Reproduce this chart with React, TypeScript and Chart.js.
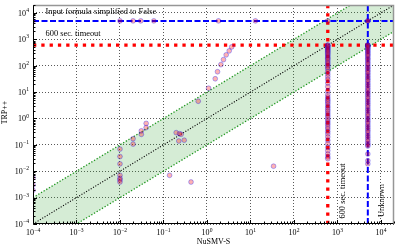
import React, { useEffect, useRef } from 'react';
import { Chart, registerables } from 'chart.js';

Chart.register(...registerables);

// ---- axis ranges & ticks ----
const X_MIN = 1e-4;
const X_MAX = 2e4;
const Y_MIN = 1e-4;
const Y_MAX = 2e4;
const decadeTicks = [1e-4, 1e-3, 1e-2, 1e-1, 1, 10, 100, 1000, 1e4];
const decadeExponents = ['\u22124', '\u22123', '\u22122', '\u22121', '0', '1', '2', '3', '4'];
const minorMultipliers = [2, 3, 4, 5, 6, 7, 8, 9];

// ---- reference lines ----
const TIMEOUT = 600;
const UNKNOWN = 5000;
const diagX = [1e-4, 2e4];
const diagY = [1e-4, 2e4];
const bandUpperY = [1e-3, 2e5];
const bandLowerY = [1e-5, 2e3];

// ---- data ----
// runs where TRP++ reported "simplified to False" (plotted at y = UNKNOWN)
const simplifiedX = [1e-4, 0.01, 0.02, 0.03, 0.06, 1.84, 13, 600, 5000];

// solved by both
const solvedX = [
  1e-4, 1e-4, 1e-4,
  0.01, 0.01, 0.01, 0.01, 0.01, 0.01, 0.01,
  0.02, 0.02, 0.031, 0.031, 0.04, 0.04,
  0.138, 0.43, 0.196, 0.234, 0.255, 0.225, 0.30, 34,
  0.63, 1.09, 1.55, 1.75, 2.09, 2.4, 2.77, 3.25, 3.7,
];
const solvedY = [
  0.0056, 0.003, 0.0019,
  0.069, 0.036, 0.019, 0.007, 0.0054, 0.0047, 0.0039,
  0.17, 0.107, 0.34, 0.25, 0.65, 0.45,
  0.007, 0.0039, 0.29, 0.265, 0.25, 0.14, 0.15, 0.0155,
  4.5, 14, 32, 59, 110, 170, 258, 365, 515,
];

// NuSMV-S timed out (x = TIMEOUT)
const timeoutColumnY = [
  600, 600, 560, 520, 480, 450, 410, 380, 350, 320, 290, 260, 235, 210, 190, 170,
  150, 130, 115, 100, 88, 75, 60, 48, 38, 30, 22, 16, 11, 8, 6.5, 5.5, 4.8, 4.2,
  3.6, 3.0, 2.6, 2.2, 1.9, 1.6, 1.35, 1.15, 0.95, 0.8, 0.68, 0.58, 0.48, 0.4,
  0.32, 0.26, 0.2, 0.15, 0.11, 0.08, 0.06, 0.045, 0.035, 0.03,
];

// NuSMV-S unknown (x = UNKNOWN)
const unknownColumnY = [
  5000, 600, 600, 600, 560, 520, 480, 440, 400, 360, 330, 300, 270, 240, 215, 190,
  170, 150, 130, 115, 100, 88, 78, 68, 60, 52, 45, 39, 34, 30, 26, 22, 19, 16.5,
  14, 12, 10.5, 9, 7.8, 6.8, 5.8, 5, 4.3, 3.7, 3.2, 2.7, 2.3, 2, 1.7, 1.45, 1.25,
  1.05, 0.9, 0.78, 0.67, 0.57, 0.49, 0.42, 0.36, 0.31, 0.26, 0.22, 0.19, 0.16,
  0.135, 0.115, 0.1, 0.09, 0.045, 0.025, 0.019,
];

const FONT = '"Liberation Serif", "Times New Roman", serif';

function drawPower(ctx: CanvasRenderingContext2D, exp: string, x: number, baseY: number, align: 'center' | 'right') {
  ctx.font = `8px ${FONT}`;
  const w1 = ctx.measureText('10').width;
  ctx.font = `5.6px ${FONT}`;
  const w2 = ctx.measureText(exp).width;
  const total = w1 + w2;
  const startX = align === 'center' ? x - total / 2 : x - total;
  ctx.textAlign = 'left';
  ctx.textBaseline = 'alphabetic';
  ctx.font = `8px ${FONT}`;
  ctx.fillText('10', startX, baseY);
  ctx.font = `5.6px ${FONT}`;
  ctx.fillText(exp, startX + w1 + 0.2, baseY - 3.7);
}

const decorPlugin = {
  id: 'decor',
  afterDraw(chart: any) {
    const { ctx, chartArea: a, scales } = chart;
    const xs = scales.x;
    const ys = scales.y;
    const L = Math.round(a.left) + 0.5;
    const R = Math.round(a.right) - 0.5;
    const T = Math.round(a.top) + 0.5;
    const B = Math.round(a.bottom) - 0.5;
    ctx.save();
    ctx.setLineDash([]);
    // top / right frame
    ctx.strokeStyle = 'rgb(150,150,150)';
    ctx.lineWidth = 1.5;
    ctx.beginPath();
    ctx.moveTo(L, T);
    ctx.lineTo(R, T);
    ctx.lineTo(R, B);
    ctx.stroke();
    // left / bottom spines
    ctx.strokeStyle = '#000';
    ctx.lineWidth = 1;
    ctx.beginPath();
    ctx.moveTo(L, T);
    ctx.lineTo(L, B);
    ctx.lineTo(R, B);
    ctx.stroke();

    // ticks (inward)
    ctx.beginPath();
    decadeTicks.forEach((v) => {
      const px = Math.round(xs.getPixelForValue(v)) + 0.5;
      ctx.moveTo(px, B);
      ctx.lineTo(px, B - 3.5);
      const py = Math.round(ys.getPixelForValue(v)) + 0.5;
      ctx.moveTo(L, py);
      ctx.lineTo(L + 3.5, py);
      minorMultipliers.forEach((m) => {
        const mv = v * m;
        if (mv <= X_MAX) {
          const mx = Math.round(xs.getPixelForValue(mv)) + 0.5;
          ctx.moveTo(mx, B);
          ctx.lineTo(mx, B - 2);
        }
        if (mv <= Y_MAX) {
          const my = Math.round(ys.getPixelForValue(mv)) + 0.5;
          ctx.moveTo(L, my);
          ctx.lineTo(L + 2, my);
        }
      });
    });
    ctx.stroke();

    // tick labels
    ctx.fillStyle = '#000';
    decadeTicks.forEach((v, i) => {
      const px = xs.getPixelForValue(v);
      drawPower(ctx, decadeExponents[i], px, 235.3, 'center');
      const py = ys.getPixelForValue(v);
      drawPower(ctx, decadeExponents[i], 28.8, py + 2.8, 'right');
    });

    // axis titles
    ctx.font = `8px ${FONT}`;
    ctx.textAlign = 'center';
    ctx.textBaseline = 'alphabetic';
    ctx.fillText('NuSMV-S', (a.left + a.right) / 2, 244.2);
    ctx.save();
    ctx.translate(6.8, (a.top + a.bottom) / 2 - 2);
    ctx.rotate(-Math.PI / 2);
    ctx.fillText('TRP++', 0, 0);
    ctx.restore();

    // annotations
    ctx.font = `8.4px ${FONT}`;
    ctx.textAlign = 'left';
    ctx.fillText('Input formula simplified to False', a.left + 12.5, ys.getPixelForValue(UNKNOWN) - 7.3);
    ctx.fillText('600 sec. timeout', a.left + 12.5, ys.getPixelForValue(TIMEOUT) - 8.8);

    ctx.save();
    ctx.translate(xs.getPixelForValue(TIMEOUT) + 17.5, 218.5);
    ctx.rotate(-Math.PI / 2);
    ctx.fillText('600 sec. timeout', 0, 0);
    ctx.restore();

    ctx.save();
    ctx.translate(xs.getPixelForValue(UNKNOWN) + 16.5, 217);
    ctx.rotate(-Math.PI / 2);
    ctx.fillText('Unknown', 0, 0);
    ctx.restore();

    ctx.restore();
  },
};

export default function App() {
  const ref = useRef<HTMLCanvasElement | null>(null);

  useEffect(() => {
    if (!ref.current) return;
    const points = [
      ...simplifiedX.map((x) => ({ x, y: UNKNOWN })),
      ...solvedX.map((x, i) => ({ x, y: solvedY[i] })),
      ...timeoutColumnY.map((y) => ({ x: TIMEOUT, y })),
      ...unknownColumnY.map((y) => ({ x: UNKNOWN, y })),
    ];
    const lineBase = { type: 'line' as const, pointRadius: 0, tension: 0, fill: false };
    const chart = new Chart(ref.current, {
      type: 'scatter',
      data: {
        datasets: [
          {
            ...lineBase,
            data: diagX.map((x, i) => ({ x, y: bandUpperY[i] })),
            borderColor: 'rgb(30,150,30)',
            borderWidth: 1.3,
            borderDash: [1.3, 1.8],
            backgroundColor: 'rgba(44,160,44,0.2)',
            fill: '+1',
            order: 5,
          },
          {
            ...lineBase,
            data: diagX.map((x, i) => ({ x, y: bandLowerY[i] })),
            borderColor: 'rgb(30,150,30)',
            borderWidth: 1.3,
            borderDash: [1.3, 1.8],
            order: 5,
          },
          {
            ...lineBase,
            data: diagX.map((x, i) => ({ x, y: diagY[i] })),
            borderColor: '#000',
            borderWidth: 1.1,
            borderDash: [1.1, 1.6],
            order: 4,
          },
          {
            ...lineBase,
            data: [{ x: X_MIN, y: TIMEOUT }, { x: X_MAX, y: TIMEOUT }],
            borderColor: '#ff0000',
            borderWidth: 3.3,
            borderDash: [3.3, 5],
            order: 3,
          },
          {
            ...lineBase,
            data: [{ x: TIMEOUT, y: Y_MIN }, { x: TIMEOUT, y: Y_MAX }],
            borderColor: '#ff0000',
            borderWidth: 3.3,
            borderDash: [3.3, 5],
            order: 3,
          },
          {
            ...lineBase,
            data: [{ x: X_MIN, y: UNKNOWN }, { x: X_MAX, y: UNKNOWN }],
            borderColor: '#0000ff',
            borderWidth: 2,
            borderDash: [6, 2.5],
            order: 2,
          },
          {
            ...lineBase,
            data: [{ x: UNKNOWN, y: Y_MIN }, { x: UNKNOWN, y: Y_MAX }],
            borderColor: '#0000ff',
            borderWidth: 2,
            borderDash: [6, 2.5],
            order: 2,
          },
          {
            type: 'scatter',
            data: points,
            pointRadius: 2.4,
            pointBackgroundColor: 'rgba(255,0,0,0.3)',
            pointBorderColor: 'rgba(0,0,255,0.3)',
            pointBorderWidth: 1,
            order: 0,
          },
        ] as any,
      },
      options: {
        responsive: false,
        animation: false,
        devicePixelRatio: 1,
        layout: { padding: { top: 1, right: 2, left: 0, bottom: 0 } },
        plugins: { legend: { display: false }, tooltip: { enabled: false } },
        scales: {
          x: {
            type: 'logarithmic',
            min: X_MIN,
            max: X_MAX,
            position: 'bottom',
            afterBuildTicks: (s: any) => {
              s.ticks = decadeTicks.map((value) => ({ value }));
            },
            afterFit: (s: any) => {
              s.height = 23;
            },
            ticks: { display: false },
            grid: { color: 'rgba(0,0,0,0.65)', lineWidth: 1, drawTicks: false },
            border: { display: false, dash: [1, 2] },
          },
          y: {
            type: 'logarithmic',
            min: Y_MIN,
            max: Y_MAX,
            position: 'left',
            afterBuildTicks: (s: any) => {
              s.ticks = decadeTicks.map((value) => ({ value }));
            },
            afterFit: (s: any) => {
              s.width = 33;
            },
            ticks: { display: false },
            grid: { color: 'rgba(0,0,0,0.65)', lineWidth: 1, drawTicks: false },
            border: { display: false, dash: [1, 2] },
          },
        },
      } as any,
      plugins: [decorPlugin],
    });
    return () => chart.destroy();
  }, []);

  return (
    <div style={{ position: 'absolute', left: 0, top: 0, width: 399, height: 247, background: '#fff' }}>
      <canvas ref={ref} width={399} height={247} style={{ display: 'block' }} />
    </div>
  );
}
